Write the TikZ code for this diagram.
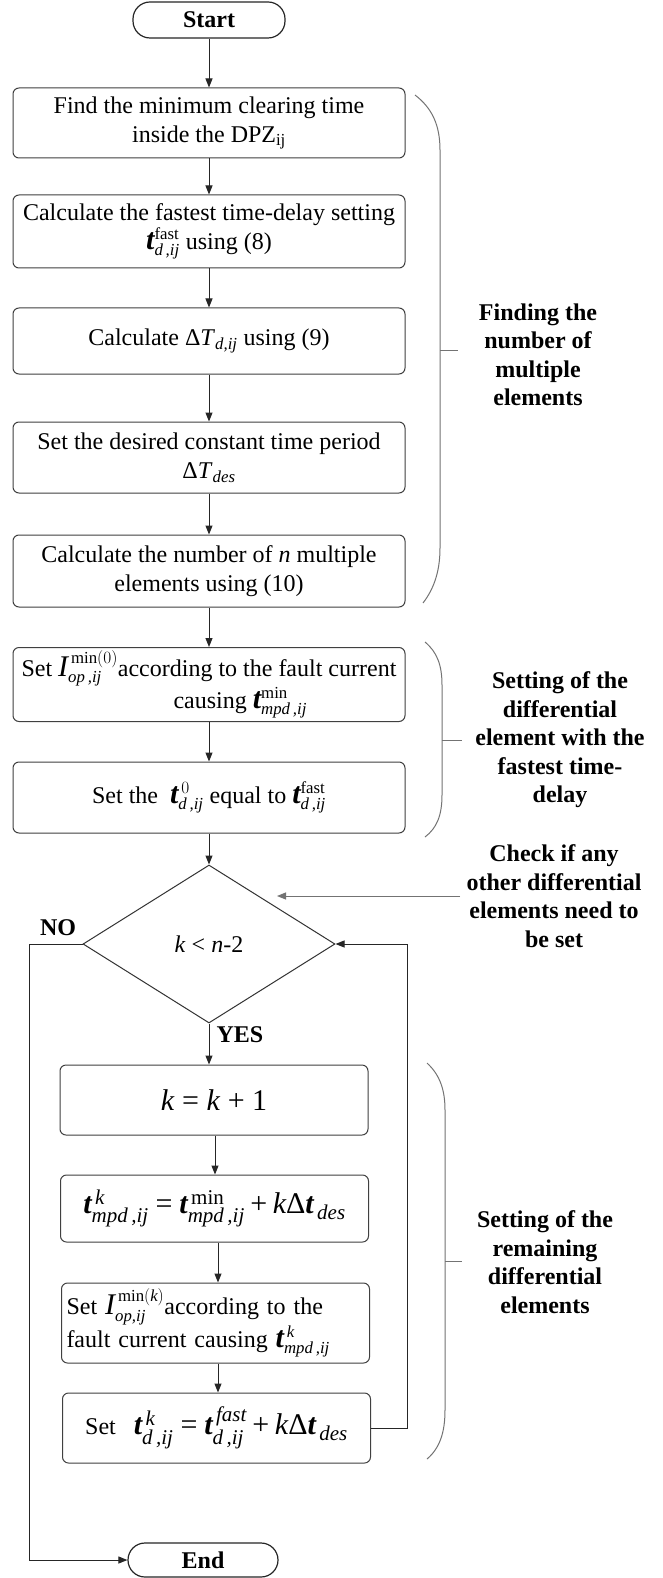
\documentclass[tikz,border=0pt]{standalone}
\usepackage{amsmath}
\usepackage{fontspec}
\setmainfont{Liberation Serif}
\usetikzlibrary{arrows.meta,shapes.geometric}
\newcommand{\tbig}{\text{\fontsize{30}{30}\selectfont\bfseries\itshape t}}
\newcommand{\tb}{\text{\bfseries\itshape t}}
\newcommand{\si}[1]{\text{\itshape #1}}
\tikzset{
  arr/.style={-{Triangle[length=9pt,width=7pt]}, line width=1pt, draw=black!85},
  box/.style={draw=black!75, line width=1pt, rounded corners=6pt, minimum width=392pt,
    align=center, inner sep=3pt, font=\fontsize{24}{29}\selectfont},
  lbox/.style={box, minimum width=308pt},
  term/.style={draw=black!85, line width=1.2pt, rounded corners=17pt, minimum width=152pt,
    minimum height=36pt, inner sep=0pt, font=\fontsize{24}{28}\selectfont\bfseries},
  dia/.style={draw=black!80, line width=1pt, diamond, minimum width=252pt, minimum height=158pt,
    inner sep=0pt, font=\fontsize{24}{28}\selectfont},
  lab/.style={align=center, inner sep=0pt, font=\fontsize{24}{28.5}\selectfont\bfseries},
  brc/.style={draw=black!55, line width=1pt},
}
\begin{document}
\begin{tikzpicture}[x=1pt,y=-1pt]
\useasboundingbox (0,0) rectangle (662,1578);
\fill[white] (0,0) rectangle (662,1578);

\node[term] (start) at (209,20) {Start};
\node[box, minimum height=70pt] (b1) at (209,123) {Find the minimum clearing time\\inside the DPZ\textsubscript{ij}};
\node[box, minimum height=73pt] (b2) at (209,231.5) {Calculate the fastest time-delay setting\\$\tbig^{\text{fast}}_{\si{d\,,ij}}$ using (8)};
\node[box, minimum height=66pt] (b3) at (209,341) {Calculate Δ\textit{T}\textsubscript{\itshape d,ij} using (9)};
\node[box, minimum height=71pt] (b4) at (209,457.5) {Set the desired constant time period\\Δ\textit{T}\textsubscript{\itshape des}};
\node[box, minimum height=72pt] (b5) at (209,571) {Calculate the number of \textit{n} multiple\\elements using (10)};
\node[box, minimum height=69pt, align=left] (b6) at (209,684.5)
  {Set $\text{\fontsize{30}{30}\selectfont\itshape I}^{\,\text{min}(0)}_{\si{op\,,ij}}$according to the fault current\\\hspace*{152pt}causing $\tbig^{\text{min}}_{\si{mpd\,,ij}}$};
\node[box, minimum height=71pt] (b7) at (209,797.5) {Set the \ $\tbig^{\,0}_{\si{d\,,ij}}$ equal to $\tbig^{\text{fast}}_{\si{d\,,ij}}$};

\node[dia] (dec) at (209,944) {\textit{k} < \textit{n}-2};

\node[lbox, minimum height=70pt] (k1) at (214,1100) {\fontsize{30}{34}\selectfont\textit{k} = \textit{k} + 1};
\node[lbox, minimum height=67pt] (k2) at (214.5,1208.5)
  {\fontsize{30}{34}\selectfont $\tb^{\,\si{k}}_{\si{mpd\,,ij}} \mathrel{\text{=}} \tb^{\,\text{min}}_{\si{mpd\,,ij}} \mathbin{\text{+}} \si{k}\text{Δ}\tb_{\,\si{des}}$};
\node[lbox, minimum height=80pt, align=left, text width=298pt, inner xsep=5pt] (k3) at (215.5,1323)
  {Set $\text{\fontsize{30}{30}\selectfont\itshape I}^{\,\text{min}(\si{k})}_{\si{op,ij}}$according to the\\fault current causing $\tbig^{\,\si{k}}_{\si{mpd\,,ij}}$};
\node[lbox, minimum height=70pt] (k4) at (216.5,1428)
  {Set \ \ {\fontsize{30}{34}\selectfont $\tb^{\,\si{k}}_{\si{d\,,ij}} \mathrel{\text{=}} \tb^{\,\si{fast}}_{\si{d\,,ij}} \mathbin{\text{+}} \si{k}\text{Δ}\tb_{\,\si{des}}$}};

\node[term, minimum width=150pt, minimum height=34pt] (end) at (203,1560) {End};

\draw[arr] (start.south) -- (b1.north);
\draw[arr] (b1.south) -- (b2.north);
\draw[arr] (b2.south) -- (b3.north);
\draw[arr] (b3.south) -- (b4.north);
\draw[arr] (b4.south) -- (b5.north);
\draw[arr] (b5.south) -- (b6.north);
\draw[arr] (b6.south) -- (b7.north);
\draw[arr] (b7.south) -- (dec.north);
\draw[arr] (dec.south) -- (dec.south |- k1.north);
\draw[arr] ([xshift=6pt]dec.south |- k1.south) -- ([xshift=6pt]dec.south |- k2.north);
\draw[arr] ([xshift=9pt]dec.south |- k2.south) -- ([xshift=9pt]dec.south |- k3.north);
\draw[arr] ([xshift=9pt]dec.south |- k3.south) -- ([xshift=9pt]dec.south |- k4.north);
\draw[arr] (k4.east) -- ++(36,0) |- (dec.east);
\coordinate (nocorner) at (29,944);
\draw[arr] (dec.west) -- (nocorner) |- (end.west);
\coordinate (ctip) at (277,896);
\coordinate (cstart) at (460,896);
\draw[arr, draw=black!55] (cstart) -- (ctip);

\node[lab] (no) at (58,928) {NO};
\node[lab] (yes) at (240,1035) {YES};

\node[lab] (l1) at (538,355) {Finding the\\number of\\multiple\\elements};
\node[lab] (l2) at (560,740) {Setting of the\\differential\\element with the\\fastest time-\\delay};
\node[lab] (l3) at (554,896) {Check if any\\other differential\\elements need to\\be set};
\node[lab] (l4) at (545,1262) {Setting of the\\remaining\\differential\\elements};

\draw[brc] (415,95) .. controls (432,108) and (440,125) .. (440,150) -- (440,548) .. controls (440,573) and (433,590) .. (423,603);
\draw[brc] (440,350) -- (458,350);
\draw[brc] (425,642) .. controls (437,652) and (442,665) .. (442,685) -- (442,795) .. controls (442,815) and (437,828) .. (425,837);
\draw[brc] (442,740) -- (462,740);
\draw[brc] (427,1063) .. controls (440,1075) and (445,1090) .. (445,1110) -- (445,1410) .. controls (445,1432) and (440,1448) .. (427,1459);
\draw[brc] (445,1261) -- (462,1261);
\end{tikzpicture}
\end{document}
